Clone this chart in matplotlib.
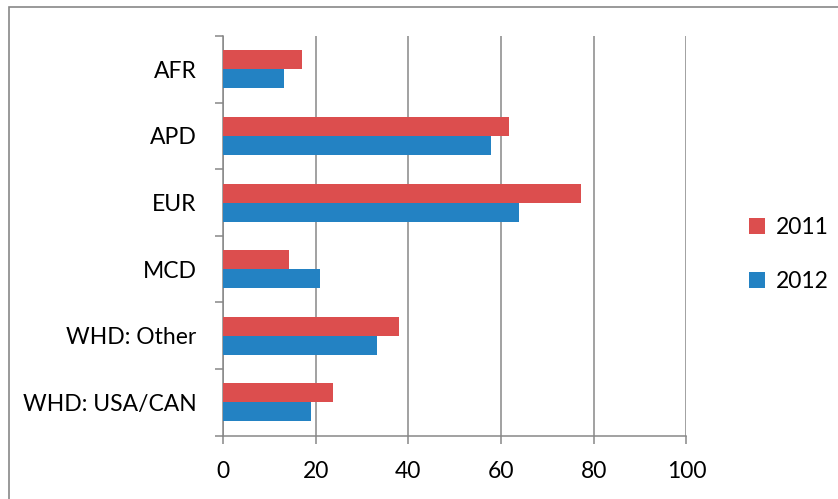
import numpy as np
import matplotlib
matplotlib.use('Agg')
import matplotlib.pyplot as plt
from matplotlib.patches import Rectangle

regions = ['AFR', 'APD', 'EUR', 'MCD', 'WHD: Other', 'WHD: USA/CAN']
vals_2011 = [17.1, 61.8, 77.3, 14.2, 38.0, 23.7]
vals_2012 = [13.2, 57.8, 63.9, 21.0, 33.3, 18.9]
x_ticks = [0, 20, 40, 60, 80, 100]

plt.rcParams['font.family'] = ['Lato', 'DejaVu Sans']
grey = '#878787'

fig = plt.figure(figsize=(8.38, 4.99), dpi=100)
ax = fig.add_axes([0.2661, 0.1269, 0.5531, 0.8010])

y = np.arange(len(regions))
h = 0.285
ax.barh(y - h / 2, vals_2011, height=h, color='#DC4E4E', label='2011', zorder=3)
ax.barh(y + h / 2, vals_2012, height=h, color='#2382C3', label='2012', zorder=3)

ax.set_xlim(0, 100)
ax.set_ylim(len(regions) - 0.5, -0.5)
ax.set_xticks(x_ticks)
ax.set_xticklabels([str(t) for t in x_ticks], fontsize=16.5)
ax.set_yticks(y)
ax.set_yticklabels(regions, fontsize=16.5)
ax.set_yticks(np.arange(len(regions) + 1) - 0.5, minor=True)
ax.tick_params(axis='y', which='major', length=0, pad=19)
ax.tick_params(axis='y', which='minor', length=6, width=1.1, color=grey, direction='out')
ax.tick_params(axis='x', length=6, width=1.1, color=grey, direction='out', pad=12)

ax.grid(axis='x', color=grey, linewidth=1.1, zorder=0)
for s in ['top', 'right']:
    ax.spines[s].set_visible(False)
for s in ['left', 'bottom']:
    ax.spines[s].set_color(grey)
    ax.spines[s].set_linewidth(1.1)

ax.legend(loc='center left', bbox_to_anchor=(0.894, 0.49), bbox_transform=fig.transFigure,
          frameon=False, fontsize=16.5, handlelength=0.7, handleheight=0.7,
          handletextpad=0.45, labelspacing=1.45, borderpad=0, borderaxespad=0)

# outer chart border
fig.patches.append(Rectangle((9 / 838, -0.1), 1.2, 1 - 7 / 499 + 0.1, transform=fig.transFigure,
                             fill=False, edgecolor=grey, linewidth=1.2))

fig.savefig('out.png', dpi=100)
